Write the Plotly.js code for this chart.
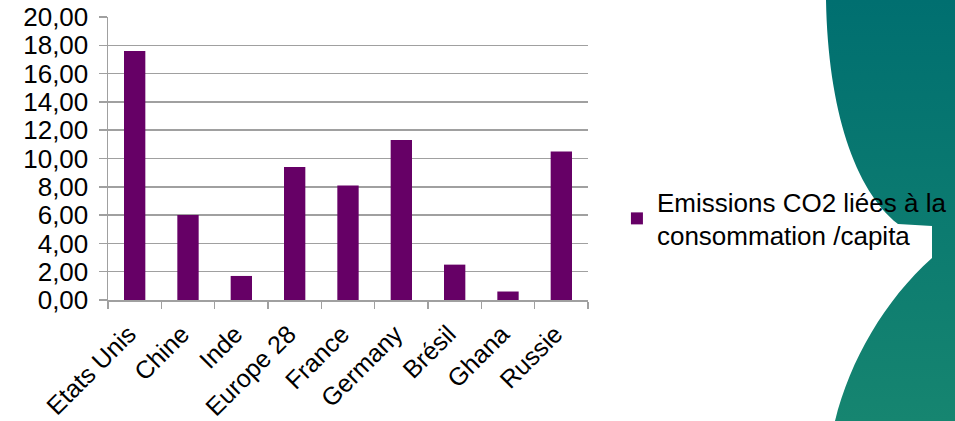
<!DOCTYPE html>
<html>
<head>
<meta charset="utf-8">
<script src="https://cdn.plot.ly/plotly-3.0.1.min.js"></script>
<style>
  html, body { margin: 0; padding: 0; background: #ffffff; }
  #wrap { position: relative; width: 955px; height: 421px; overflow: hidden; }
  #bg { position: absolute; left: 0; top: 0; }
  #chart { position: absolute; left: 0; top: 0; width: 955px; height: 421px; }
</style>
</head>
<body>
<div id="wrap">
  <svg id="bg" width="955" height="421" viewBox="0 0 955 421">
    <defs>
      <linearGradient id="tealGrad" x1="0" y1="0" x2="0" y2="1">
        <stop offset="0" stop-color="#006f70"/>
        <stop offset="1" stop-color="#168570"/>
      </linearGradient>
    </defs>
    <path d="M 826,0 L 955,0 L 955,421 L 835,421 C 850,360 885,300 932,258 L 932,226 L 898,224 C 855,190 828,110 826,0 Z" fill="url(#tealGrad)"/>
  </svg>
  <div id="chart"></div>
</div>
<script>
const categories = ["Etats Unis", "Chine", "Inde", "Europe 28", "France", "Germany", "Brésil", "Ghana", "Russie"];
const emissions = [17.6, 6.0, 1.7, 9.4, 8.1, 11.3, 2.5, 0.6, 10.5];
const seriesName = "Emissions CO2 liées à la<br>consommation /capita";
const yTicks = [0, 2, 4, 6, 8, 10, 12, 14, 16, 18, 20];

const fontFamily = "Liberation Sans, Arial, sans-serif";

const trace = {
  type: "bar",
  x: categories,
  y: emissions,
  name: seriesName,
  marker: { color: "#660066" },
  showlegend: true,
  hoverinfo: "x+y"
};

const layout = {
  width: 955,
  height: 421,
  margin: { l: 108, r: 367, t: 17, b: 121, pad: 0, autoexpand: false },
  paper_bgcolor: "rgba(0,0,0,0)",
  plot_bgcolor: "rgba(0,0,0,0)",
  separators: ",.",
  bargap: 0.6,
  font: { family: fontFamily, size: 25, color: "#000000" },
  xaxis: {
    type: "category",
    tickangle: -45,
    ticks: "outside",
    tickson: "boundaries",
    ticklen: 7,
    tickwidth: 1.5,
    tickcolor: "#a0a0a0",
    showline: true,
    linecolor: "#a0a0a0",
    linewidth: 1.5,
    showgrid: false,
    automargin: false,
    ticklabelstandoff: 8,
    ticklabelshift: -6,
    tickfont: { family: fontFamily, size: 25, color: "#000000" }
  },
  yaxis: {
    range: [0, 20],
    tickvals: yTicks,
    tickformat: ".2f",
    ticks: "outside",
    ticklen: 8,
    tickwidth: 1.5,
    tickcolor: "#a0a0a0",
    showline: true,
    linecolor: "#a0a0a0",
    linewidth: 1.5,
    showgrid: true,
    gridcolor: "#a0a0a0",
    gridwidth: 1.5,
    zeroline: false,
    automargin: false,
    ticklabelstandoff: 5,
    tickfont: { family: fontFamily, size: 26, color: "#000000" }
  },
  legend: {
    xref: "container",
    yref: "container",
    x: 0.646,
    xanchor: "left",
    y: 0.577,
    yanchor: "top",
    bgcolor: "rgba(0,0,0,0)",
    borderwidth: 0,
    font: { family: fontFamily, size: 26, color: "#000000" }
  }
};

Plotly.newPlot("chart", [trace], layout, { displayModeBar: false, staticPlot: true });
</script>
</body>
</html>
